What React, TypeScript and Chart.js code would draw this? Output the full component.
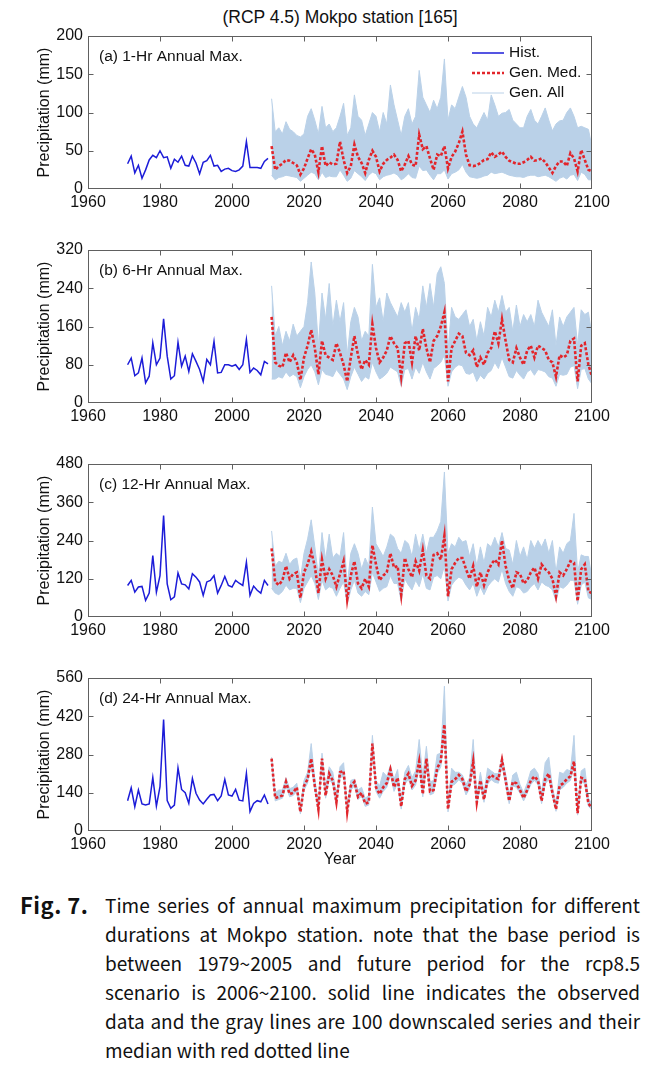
import React, { useEffect, useRef } from "react";
import { Chart, registerables } from "chart.js";
Chart.register(...registerables);

// ---------- data ----------
const HIST_START = 1971; // observed: 1971-2010
const GEN_START = 2011; // generated: 2011-2100
const X_TICKS = [1960, 1980, 2000, 2020, 2040, 2060, 2080, 2100];

const histA = [33,43,21,31,14,25,38,44,41,50, 41,42,27,39,35,43,31,30,43,34, 20,35,37,44,30,31,23,26,27,24, 23,25,30,62,28,28,28,27,36,40];
const medA = [56,25,30,33,38,37,34,31,19,27, 40,52,45,22,56,30,35,32,33,62, 38,21,30,58,42,34,21,38,50,42, 23,33,38,41,45,38,23,32,43,32, 30,71,52,56,40,25,45,43,56,27, 42,49,60,75,45,31,30,31,34,38, 39,48,42,45,49,42,37,35,33,33, 35,38,42,37,38,40,35,28,21,30, 36,36,30,47,40,23,51,38,25,23];
const upA = [118,75,80,72,88,78,75,70,68,72, 95,105,90,72,108,80,85,75,80,95, 112,70,80,123,95,90,70,85,100,95, 75,100,85,136,110,90,70,95,105,85, 95,155,120,110,100,116,105,120,170,90, 110,105,120,134,120,95,85,80,90,100, 90,123,110,95,99,100,104,90,85,80, 80,95,104,90,85,95,106,90,76,85, 89,90,100,106,95,80,82,80,78,55];
const loA = [18,12,15,16,18,17,16,15,10,14, 18,22,20,12,22,15,17,16,16,25, 18,10,14,24,20,16,11,18,22,20, 12,16,18,19,21,18,12,15,20,15, 14,30,24,25,18,12,20,20,25,13, 20,22,25,32,22,16,15,14,15,17, 18,22,20,21,22,20,18,17,16,16, 15,17,18,18,16,17,18,16,13,10, 14,16,13,18,19,11,22,19,12,12];

const histB = [80,94,57,63,94,42,56,126,80,94, 176,98,50,57,127,77,98,66,103,87, 70,45,91,80,129,63,64,80,80,77, 80,70,80,133,64,73,68,59,87,82];
const medB = [180,85,78,75,105,85,100,85,48,95, 120,153,115,60,130,100,95,90,125,105, 80,45,95,140,100,70,90,80,165,115, 85,95,110,140,125,115,55,125,130,85, 140,110,155,115,85,130,140,160,190,45, 115,130,145,140,105,100,110,75,95,80, 105,115,150,125,175,130,90,85,115,95, 80,110,120,95,120,115,110,90,85,55, 100,95,100,130,135,45,120,125,80,55];
const upB = [245,140,160,120,150,130,165,140,150,160, 210,295,230,120,230,175,250,160,215,170, 210,100,170,200,180,130,150,140,290,200, 220,170,230,210,195,180,210,190,210,150, 200,175,245,200,250,200,270,285,250,110, 200,180,175,185,195,160,175,130,170,140, 200,180,215,190,225,190,200,150,205,160, 185,170,185,160,215,190,175,160,195,120, 180,160,180,190,200,120,195,185,190,140];
const loB = [50,50,55,52,65,55,60,55,32,55, 70,80,65,38,70,60,58,55,70,60, 50,28,55,75,60,45,55,50,85,65, 50,55,62,75,70,65,35,70,72,50, 75,62,85,65,50,72,78,85,100,35, 65,75,80,78,62,60,65,45,58,50, 62,68,85,72,95,75,55,52,68,58, 50,65,70,58,70,68,65,55,52,35, 60,58,60,75,78,30,70,72,50,40];

const histC = [99,115,78,94,96,52,75,193,78,130, 318,104,54,63,138,104,101,88,136,125, 110,68,110,115,130,75,99,127,99,94, 115,106,99,172,68,97,84,75,115,99];
const medC = [215,110,100,115,160,120,135,140,60,140, 165,205,160,75,180,120,150,130,95,135, 175,55,130,175,105,90,120,95,225,165, 115,130,140,200,155,160,70,185,150,125, 175,145,210,130,120,195,200,180,255,65, 150,170,185,185,150,120,160,95,140,100, 140,165,180,165,240,160,115,90,140,135, 105,115,140,155,120,165,150,140,120,65, 140,130,150,175,170,50,150,165,80,75];
const upC = [270,160,175,170,200,165,180,185,120,200, 245,305,220,130,265,180,260,185,200,190, 265,100,200,230,200,150,185,160,345,230, 210,190,220,260,250,215,200,240,230,190, 260,210,260,200,250,250,270,300,455,200, 230,220,250,235,240,190,230,160,220,170, 230,220,250,220,265,215,210,165,240,190, 220,180,240,215,240,220,245,200,240,140, 220,200,230,240,325,140,195,190,190,120];
const loC = [90,75,70,80,100,85,90,90,45,90, 110,130,105,55,115,85,95,90,65,90, 110,40,85,115,75,65,80,70,140,110, 80,90,95,130,105,105,50,120,100,85, 115,95,135,90,85,125,130,120,160,50, 100,115,125,120,100,85,105,65,95,70, 95,110,120,110,150,105,80,65,95,90, 75,80,95,105,85,110,100,95,85,50, 95,90,100,115,115,40,100,110,60,55];

const histD = [111,158,89,150,99,95,99,196,91,162, 408,111,83,95,231,152,140,101,192,138, 113,99,116,132,134,111,128,189,132,128, 152,113,110,211,71,101,111,107,132,99];
const medD = [265,120,125,130,180,135,140,160,70,165, 190,265,165,80,265,130,210,185,105,215, 220,70,165,180,125,140,100,105,320,160, 135,160,175,225,160,195,90,190,210,165, 185,255,135,265,145,150,230,255,390,80, 180,190,205,190,145,170,255,105,185,115, 190,205,195,190,260,185,110,180,175,150, 120,150,185,200,185,110,190,210,140,80, 165,175,190,200,255,65,195,190,100,85];
const upD = [270,140,150,150,195,155,160,175,85,185, 215,320,190,100,285,160,235,215,130,235, 250,90,185,190,150,160,120,130,350,185, 165,215,200,240,190,225,110,215,240,195, 220,335,200,310,180,185,280,285,530,100, 230,215,215,205,170,195,335,130,215,140, 230,220,210,210,275,210,130,205,215,170, 140,175,220,230,210,140,250,270,160,100, 215,210,225,220,350,85,220,230,120,100];
const loD = [250,110,115,120,165,125,130,145,62,150, 175,245,150,70,245,120,190,170,95,195, 200,62,150,165,115,128,90,95,295,145, 120,145,160,205,145,175,80,170,190,150, 168,230,125,240,132,138,210,235,360,70, 165,172,188,175,132,155,230,95,168,105, 172,188,178,175,240,170,100,165,160,138, 110,138,170,185,170,100,172,190,128,72, 150,160,175,185,235,58,178,175,90,78];

const yTicksA = [0, 50, 100, 150, 200];
const yTicksB = [0, 80, 160, 240, 320];
const yTicksC = [0, 120, 240, 360, 480];
const yTicksD = [0, 140, 280, 420, 560];

const captionLines = [
  "Time series of annual maximum precipitation for different",
  "durations at Mokpo station. note that the base period is",
  "between 1979~2005 and future period for the rcp8.5",
  "scenario is 2006~2100. solid line indicates the observed",
  "data and the gray lines are 100 downscaled series and their",
  "median with red dotted line",
];

// ---------- styles ----------
const FONT = '"Liberation Sans", Arial, Helvetica, sans-serif';
const BLUE = "#1c1cd8";
const RED = "#e2252b";
const BAND = "rgb(186,209,232)";
const AXIS = "#606060";
const TEXT = "#111111";

const PANEL_TOPS = [36, 250, 464, 678];
const CANVAS_OFFSET = 20;

type Cfg = { label: string; hist: number[]; med: number[]; up: number[]; lo: number[]; yTicks: number[]; legend: boolean };

const panels: Cfg[] = [
  { label: "(a) 1-Hr Annual Max.", hist: histA, med: medA, up: upA, lo: loA, yTicks: yTicksA, legend: true },
  { label: "(b) 6-Hr Annual Max.", hist: histB, med: medB, up: upB, lo: loB, yTicks: yTicksB, legend: false },
  { label: "(c) 12-Hr Annual Max.", hist: histC, med: medC, up: upC, lo: loC, yTicks: yTicksC, legend: false },
  { label: "(d) 24-Hr Annual Max.", hist: histD, med: medD, up: upD, lo: loD, yTicks: yTicksD, legend: false },
];

const toPts = (arr: number[], start: number) => arr.map((v, i) => ({ x: start + i, y: v }));

const decoPlugin = {
  id: "deco",
  afterDraw(chart: any, _args: any, opts: any) {
    const { ctx, chartArea: a, scales } = chart;
    const L = Math.round(a.left) + 0.5;
    const R = Math.round(a.right) - 0.5;
    const T = Math.round(a.top) + 0.5;
    const B = Math.round(a.bottom) - 0.5;
    ctx.save();
    ctx.strokeStyle = AXIS;
    ctx.lineWidth = 1;
    ctx.strokeRect(L, T, R - L, B - T);
    const tl = 5;
    ctx.beginPath();
    scales.x.ticks.forEach((t: any) => {
      const px = Math.round(scales.x.getPixelForValue(t.value)) + 0.5;
      if (px <= L + 1 || px >= R - 1) return;
      ctx.moveTo(px, B); ctx.lineTo(px, B - tl);
      ctx.moveTo(px, T); ctx.lineTo(px, T + tl);
    });
    scales.y.ticks.forEach((t: any) => {
      const py = Math.round(scales.y.getPixelForValue(t.value)) + 0.5;
      if (py <= T + 1 || py >= B - 1) return;
      ctx.moveTo(L, py); ctx.lineTo(L + tl, py);
      ctx.moveTo(R, py); ctx.lineTo(R - tl, py);
    });
    ctx.stroke();

    ctx.fillStyle = TEXT;
    ctx.font = `15.5px ${FONT}`;
    ctx.textBaseline = "middle";
    ctx.textAlign = "left";
    ctx.fillText(opts.label, a.left + 11, a.top + 21);

    if (opts.legend) {
      const x0 = 472, x1 = 504, tx = 509;
      const rows = [
        { text: "Hist.", color: BLUE, width: 1.5, dash: [] as number[] },
        { text: "Gen. Med.", color: RED, width: 2.6, dash: [3, 2] },
        { text: "Gen. All", color: BAND, width: 1, dash: [] as number[] },
      ];
      rows.forEach((r, i) => {
        const y = a.top + 17 + i * 20;
        ctx.beginPath();
        ctx.setLineDash(r.dash);
        ctx.strokeStyle = r.color;
        ctx.lineWidth = r.width;
        ctx.moveTo(x0, y); ctx.lineTo(x1, y);
        ctx.stroke();
        ctx.setLineDash([]);
        ctx.fillStyle = TEXT;
        ctx.fillText(r.text, tx, y);
      });
    }
    ctx.restore();
  },
};

function Panel({ cfg, top }: { cfg: Cfg; top: number }) {
  const ref = useRef<HTMLCanvasElement>(null);
  useEffect(() => {
    const yMax = cfg.yTicks[cfg.yTicks.length - 1];
    const yStep = cfg.yTicks[1] - cfg.yTicks[0];
    const chart = new Chart(ref.current as HTMLCanvasElement, {
      type: "line",
      data: {
        datasets: [
          { label: "Gen. Med.", data: toPts(cfg.med, GEN_START), borderColor: RED, borderWidth: 2.6, borderDash: [3, 2], borderCapStyle: "butt", pointRadius: 0, fill: false, tension: 0 },
          { label: "Hist.", data: toPts(cfg.hist, HIST_START), borderColor: BLUE, borderWidth: 1.5, pointRadius: 0, fill: false, tension: 0 },
          { label: "Gen. All", data: toPts(cfg.up, GEN_START), borderColor: BAND, borderWidth: 1, backgroundColor: BAND, pointRadius: 0, fill: "+1", tension: 0 },
          { label: "Gen. All (min)", data: toPts(cfg.lo, GEN_START), borderColor: BAND, borderWidth: 1, pointRadius: 0, fill: false, tension: 0 },
        ],
      } as any,
      options: {
        animation: false,
        responsive: false,
        maintainAspectRatio: false,
        layout: { padding: { left: 0, right: 66, top: CANVAS_OFFSET, bottom: 0 } },
        plugins: {
          legend: { display: false },
          tooltip: { enabled: false },
          deco: { label: cfg.label, legend: cfg.legend },
        } as any,
        scales: {
          x: {
            type: "linear",
            min: X_TICKS[0],
            max: X_TICKS[X_TICKS.length - 1],
            grid: { display: false, drawTicks: false },
            border: { display: false },
            ticks: { stepSize: X_TICKS[1] - X_TICKS[0], padding: 4, color: TEXT, font: { family: FONT, size: 16 }, maxRotation: 0, callback: (v: any) => String(v) },
            afterFit: (s: any) => { s.height = 214 - CANVAS_OFFSET - 153; },
          },
          y: {
            type: "linear",
            min: 0,
            max: yMax,
            grid: { display: false, drawTicks: false },
            border: { display: false },
            ticks: { stepSize: yStep, padding: 5, color: TEXT, font: { family: FONT, size: 16 }, callback: (v: any) => String(v) },
            title: { display: true, text: "Precipitation (mm)", color: TEXT, font: { family: FONT, size: 16 }, padding: { top: 35.4, bottom: 0 } },
            afterFit: (s: any) => { s.width = 88; },
          },
        } as any,
      },
      plugins: [decoPlugin as any],
    });
    return () => chart.destroy();
  }, [cfg]);
  return (
    <canvas
      ref={ref}
      width={658}
      height={214}
      style={{ position: "absolute", left: 0, top: top - CANVAS_OFFSET, width: 658, height: 214 }}
    />
  );
}

export default function App() {
  return (
    <div style={{ position: "absolute", left: 0, top: 0, width: 658, height: 1067, background: "#fff", overflow: "hidden" }}>
      <div style={{ position: "absolute", left: 88, width: 504, top: 6, textAlign: "center", fontFamily: FONT, fontSize: 17.5, lineHeight: "22px", color: TEXT }}>
        (RCP 4.5) Mokpo station [165]
      </div>
      {panels.map((p, i) => (
        <Panel key={i} cfg={p} top={PANEL_TOPS[i]} />
      ))}
      <div style={{ position: "absolute", left: 88, width: 504, top: 849, textAlign: "center", fontFamily: FONT, fontSize: 16, lineHeight: "20px", color: TEXT }}>
        Year
      </div>
      <div style={{ position: "absolute", left: 20, top: 890, width: 620, display: "flex", fontFamily: '"Noto Sans CJK KR", "Noto Sans", sans-serif', fontSize: 19, lineHeight: "29px", color: "#111" }}>
        <div style={{ width: 85, flex: "none", fontWeight: 700, fontSize: 22, letterSpacing: 0.5 }}>Fig. 7.</div>
        <div style={{ flex: 1 }}>
          {captionLines.map((l, i) => (
            <div key={i} style={{ textAlign: "justify", textAlignLast: i < captionLines.length - 1 ? "justify" : "left" } as any}>
              {l}
            </div>
          ))}
        </div>
      </div>
    </div>
  );
}
